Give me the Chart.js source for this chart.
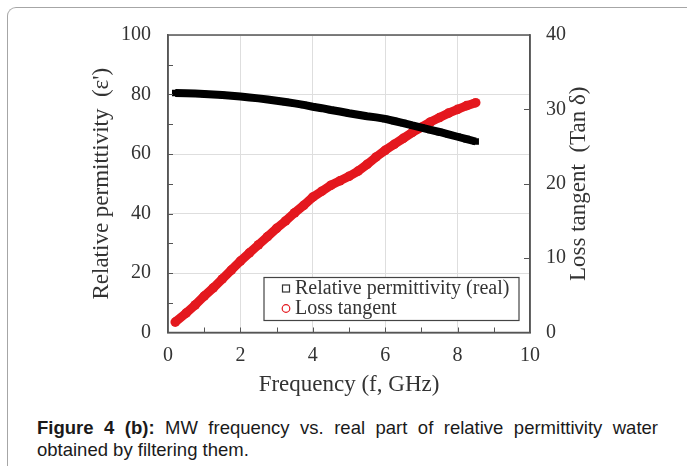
<!DOCTYPE html>
<html>
<head>
<meta charset="utf-8">
<script src="https://cdn.jsdelivr.net/npm/chart.js@4.4.1/dist/chart.umd.min.js"></script>
<style>
  body { margin: 0; background: #fff; width: 687px; height: 466px; overflow: hidden; position: relative; }
  #frame { position: absolute; left: 7px; top: 7px; width: 720px; height: 520px; border-left: 1px solid #a6a6a6; border-top: 1px solid #a6a6a6; border-top-left-radius: 9px; }
  #cv { position: absolute; left: 0; top: 0; }
  #caption { position: absolute; left: 37px; top: 417px; width: 621px; font-family: "Liberation Sans", Arial, sans-serif; font-size: 18.5px; line-height: 22px; text-align: justify; color: #1a1a1a; }
</style>
</head>
<body>
<div id="frame"></div>
<canvas id="cv" width="687" height="400"></canvas>
<div id="caption"><b>Figure 4 (b):</b> MW frequency vs. real part of relative permittivity water obtained by filtering them.</div>
<script>
// frecuencia (GHz)
var frequency = [0.2, 0.5, 0.75, 1.0, 1.25, 1.5, 1.75, 2.0, 2.25, 2.5, 2.75, 3.0, 3.25, 3.5, 3.75, 4.0, 4.25,
  4.5, 4.75, 5.0, 5.25, 5.5, 5.75, 6.0, 6.25, 6.5, 6.75, 7.0, 7.25, 7.5, 7.75, 8.0, 8.25, 8.5];
// permitividad relativa (real), eje izquierdo
var permittivity = [80.5, 80.4, 80.3, 80.2, 80.0, 79.8, 79.6, 79.3, 79.0, 78.7, 78.3, 77.9, 77.5, 77.0, 76.5, 75.9, 75.4,
  74.8, 74.3, 73.7, 73.2, 72.7, 72.3, 71.8, 71.1, 70.4, 69.6, 68.9, 68.1, 67.4, 66.6, 65.8, 65.0, 64.2];
// tangente de perdida, eje derecho
var lossTangent = [1.4, 2.6, 3.7, 4.9, 6.0, 7.2, 8.4, 9.6, 10.7, 11.8, 12.9, 14.0, 15.0, 16.1, 17.1, 18.2, 19.0,
  19.8, 20.4, 21.0, 21.7, 22.6, 23.6, 24.5, 25.3, 26.1, 26.9, 27.6, 28.3, 28.9, 29.5, 30.0, 30.5, 30.9];
var xTicks = [0, 2, 4, 6, 8, 10];
var leftTicks = [0, 20, 40, 60, 80, 100];
var rightTicks = [0, 10, 20, 30, 40];
var legendLabels = ['Relative permittivity (real)', 'Loss tangent'];
var rightTitle = 'Loss tangent  (Tan δ)';

var RED = 'rgb(228, 24, 30)';
var AXIS = '#555555';
var TXT = '#333333';
var serif = '"Liberation Serif", "Times New Roman", serif';

function toPoints(xs, ys) {
    return xs.map(function (x, i) { return { x: x, y: ys[i] }; });
}

// marcas menores, borde del area, titulo derecho y leyenda
var framePlugin = {
    id: 'framePlugin',
    afterDatasetsDraw: function (chart) {
        var ctx = chart.ctx, a = chart.chartArea;
        var sx = chart.scales.x, sy = chart.scales.y, sy1 = chart.scales.y1;
        ctx.save();
        ctx.strokeStyle = AXIS;
        ctx.lineWidth = 1;
        ctx.beginPath();
        for (var v = 1; v < 10; v++) {
            var px = Math.round(sx.getPixelForValue(v)) + 0.5;
            ctx.moveTo(px, a.bottom); ctx.lineTo(px, a.bottom - 5);
        }
        for (var w = 10; w < 100; w += 10) {
            var py = Math.round(sy.getPixelForValue(w)) + 0.5;
            ctx.moveTo(a.left, py); ctx.lineTo(a.left + 5, py);
        }
        for (var k = 10; k < 40; k += 10) {
            var py1 = Math.round(sy1.getPixelForValue(k)) + 0.5;
            ctx.moveTo(a.right, py1); ctx.lineTo(a.right - 6, py1);
        }
        ctx.stroke();
        ctx.lineWidth = 1.5;
        ctx.strokeRect(a.left, a.top, a.right - a.left, a.bottom - a.top);

        // titulo del eje derecho, leido de abajo hacia arriba
        ctx.save();
        ctx.translate(sy1.right - 108, (a.top + a.bottom) / 2);
        ctx.rotate(-Math.PI / 2);
        ctx.font = '23px ' + serif;
        ctx.fillStyle = TXT;
        ctx.textAlign = 'center';
        ctx.textBaseline = 'middle';
        ctx.fillText(rightTitle, 0, 0);
        ctx.restore();

        // leyenda
        var bx = a.right - 266, by = a.bottom - 55, bw = 255, bh = 43;
        ctx.fillStyle = '#fff';
        ctx.fillRect(bx, by, bw, bh);
        ctx.lineWidth = 1.2;
        ctx.strokeStyle = '#444';
        ctx.strokeRect(bx, by, bw, bh);
        ctx.font = '20px ' + serif;
        ctx.textBaseline = 'middle';
        ctx.fillStyle = TXT;
        ctx.fillText(legendLabels[0], bx + 31, by + 11);
        ctx.fillText(legendLabels[1], bx + 31, by + 31);
        ctx.lineWidth = 1.2;
        ctx.strokeStyle = '#333';
        ctx.strokeRect(bx + 18.5, by + 7.5, 7, 7);
        ctx.strokeStyle = RED;
        ctx.beginPath();
        ctx.arc(bx + 22, by + 31, 3.8, 0, Math.PI * 2);
        ctx.stroke();
        ctx.restore();
    }
};

var ctx = document.getElementById('cv').getContext('2d');
var chart = new Chart(ctx, {
    type: 'scatter',
    data: {
        datasets: [{
            label: legendLabels[0],
            data: toPoints(frequency, permittivity),
            yAxisID: 'y',
            showLine: true,
            borderColor: '#000',
            borderWidth: 8,
            backgroundColor: '#000',
            pointStyle: 'rect',
            pointRadius: 4.6,
            pointBorderWidth: 0
        },
        {
            label: legendLabels[1],
            data: toPoints(frequency, lossTangent),
            yAxisID: 'y1',
            showLine: true,
            borderColor: RED,
            borderWidth: 9,
            backgroundColor: RED,
            pointStyle: 'circle',
            pointRadius: 4.8,
            pointBorderWidth: 0
        }]
    },
    options: {
        responsive: false,
        animation: false,
        layout: { padding: { top: 35, left: 0, right: 0, bottom: 0 } },
        plugins: {
            legend: { display: false },
            tooltip: { enabled: false }
        },
        scales: {
            x: {
                type: 'linear',
                min: 0, max: 10,
                afterBuildTicks: function (s) { s.ticks = xTicks.map(function (v) { return { value: v }; }); },
                afterFit: function (s) { s.height = 67.5; },
                ticks: { color: TXT, font: { family: serif, size: 20 }, padding: 11, maxRotation: 0 },
                grid: { color: '#dedede', lineWidth: 1, drawTicks: false },
                border: { color: AXIS, width: 1.5 },
                title: { display: true, text: 'Frequency (f, GHz)', color: TXT, font: { family: serif, size: 23 }, padding: { top: 0, bottom: 1 } }
            },
            y: {
                position: 'left',
                min: 0, max: 100,
                afterBuildTicks: function (s) { s.ticks = leftTicks.map(function (v) { return { value: v }; }); },
                afterFit: function (s) { s.width = 168; },
                ticks: { color: TXT, font: { family: serif, size: 20 }, padding: 17 },
                grid: { color: '#dedede', lineWidth: 1, drawTicks: false },
                border: { color: AXIS, width: 1.5 },
                title: { display: true, text: "Relative permittivity  (ε')", color: TXT, font: { family: serif, size: 23 }, padding: { top: 88, bottom: 0 } }
            },
            y1: {
                position: 'right',
                min: 0, max: 40,
                afterBuildTicks: function (s) { s.ticks = rightTicks.map(function (v) { return { value: v }; }); },
                afterFit: function (s) { s.width = 157; },
                ticks: { color: TXT, font: { family: serif, size: 20 }, padding: 16 },
                grid: { drawOnChartArea: false, drawTicks: false },
                border: { color: AXIS, width: 1.5 },
                title: { display: false }
            }
        }
    },
    plugins: [framePlugin]
});
</script>
</body>
</html>
